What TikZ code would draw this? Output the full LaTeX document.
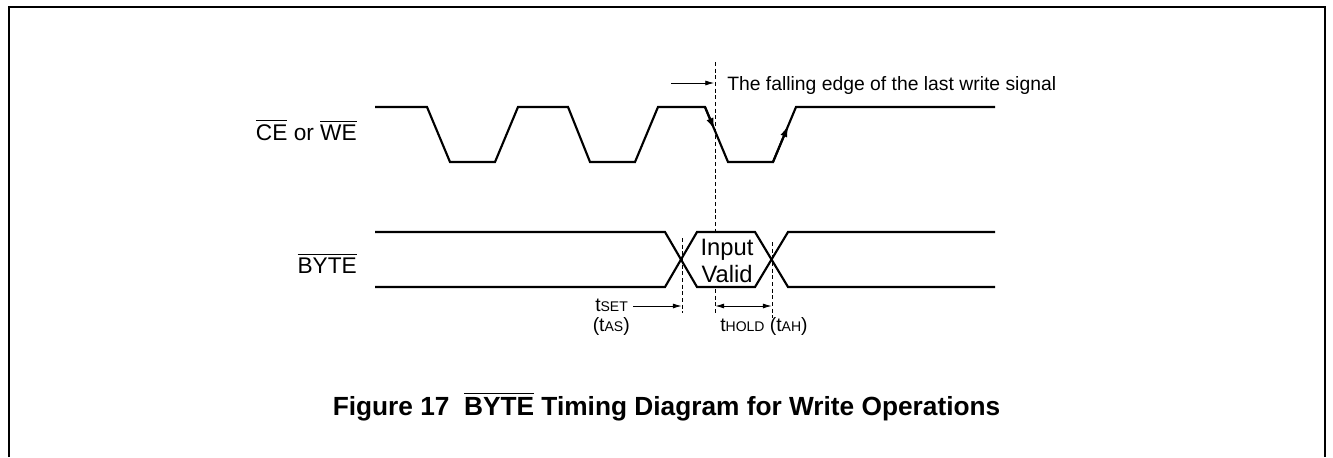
\documentclass[tikz,border=0pt]{standalone}
\usepackage{amsmath}
\usepackage{fontspec}
\setmainfont{Liberation Sans}
\usepackage{tikz}
\usetikzlibrary{arrows.meta}

\newcommand{\ovl}[1]{$\overline{\mbox{#1}}$}
\newcommand{\tsub}[1]{t{\fontsize{10.5}{12}\selectfont #1}}

\begin{document}
\begin{tikzpicture}[x=0.75pt,y=0.75pt,yscale=-1,xscale=1,
  wave/.style={line width=1.6pt, line join=miter},
  guide/.style={dash pattern=on 3pt off 2pt, line width=0.6pt},
  dim/.style={line width=0.6pt, -{Latex[length=6.5pt,width=3.8pt]}},
  edgetip/.style={line width=1.6pt, -{Latex[length=9pt,width=5.5pt]}},
  sig/.style={font=\fontsize{17}{20}\selectfont, inner sep=0pt},
  note/.style={font=\fontsize{14.5}{17}\selectfont, inner sep=0pt}]
\useasboundingbox (0,0) rectangle (1333,457);

%Frame
\draw [line width=1.1pt]  (9,457) -- (9,7) -- (1325,7) -- (1325,457) ;

%Straight Lines: CE or WE
\draw [wave]  (375,107) -- (427,107) -- (450,162) -- (495,162) -- (518,107) -- (568,107) -- (590,162) -- (635,162) -- (658,107) -- (705,107) -- (728,162) -- (773,162) -- (796,107) -- (995,107) ;
\draw [edgetip]  (705,107) -- (714.6,130) ;
\draw [edgetip]  (773,162) -- (788.5,125) ;

%Straight Lines: BYTE
\draw [wave]  (375,232) -- (665,232) -- (697,287) -- (755,287) -- (788,232) -- (995,232) ;
\draw [wave]  (375,287) -- (665,287) -- (697,232) -- (755,232) -- (788,287) -- (995,287) ;

%Dashed Lines
\coordinate (lasttop) at (715,62);
\coordinate (lastmid) at (715,232);
\coordinate (lastlow) at (715,289);
\coordinate (lastbot) at (715,313);
\coordinate (settop) at (682,238);
\coordinate (setbot) at (682,313);
\coordinate (holdtop) at (772,242);
\coordinate (holdbot) at (772,318);
\draw [guide]  (lasttop) -- (lastmid) ;
\draw [guide]  (lastlow) -- (lastbot) ;
\draw [guide]  (settop) -- (setbot) ;
\draw [guide]  (holdtop) -- (holdbot) ;

% Text Node
\node [sig, anchor=base east] (cewe) at (357,140) {\ovl{CE} or \ovl{WE}};
% Text Node
\node [sig, anchor=base east] (byte) at (357,273) {\ovl{BYTE}};
% Text Node
\node [sig, anchor=base, font=\fontsize{17.8}{20}\selectfont] (input) at (727,255) {Input};
% Text Node
\node [sig, anchor=base, font=\fontsize{17.8}{20}\selectfont] (valid) at (727,282) {Valid};
% Text Node
\node [note, anchor=base west] (fall) at (727,90.5) {The falling edge of the last write signal};
% Text Node
\node [note, anchor=base west] (tset) at (595,311.5) {\tsub{SET}};
% Text Node
\node [note, anchor=base west] (tas) at (592.5,331.5) {(\tsub{AS})};
% Text Node
\node [note, anchor=base west] (thold) at (720,331.5) {\tsub{HOLD} (\tsub{AH})};
% Text Node
\node [anchor=base, inner sep=0pt, font=\bfseries\fontsize{19.7}{23}\selectfont] (caption) at (666.5,415) {Figure 17\ \ \ovl{BYTE} Timing Diagram for Write Operations};

%Arrows
\coordinate (fallfrom) at (671,83);
\coordinate (fallto) at (714,83);
\draw [dim]  (fallfrom) -- (fallto) ;
\coordinate (setfrom) at (633,306);
\coordinate (setto) at (681.5,306);
\draw [dim]  (setfrom) -- (setto) ;
\coordinate (holdfrom) at (715.5,306);
\coordinate (holdto) at (771.5,306);
\draw [dim, {Latex[length=6.5pt,width=3.8pt]}-{Latex[length=6.5pt,width=3.8pt]}]  (holdfrom) -- (holdto) ;
\end{tikzpicture}
\end{document}
